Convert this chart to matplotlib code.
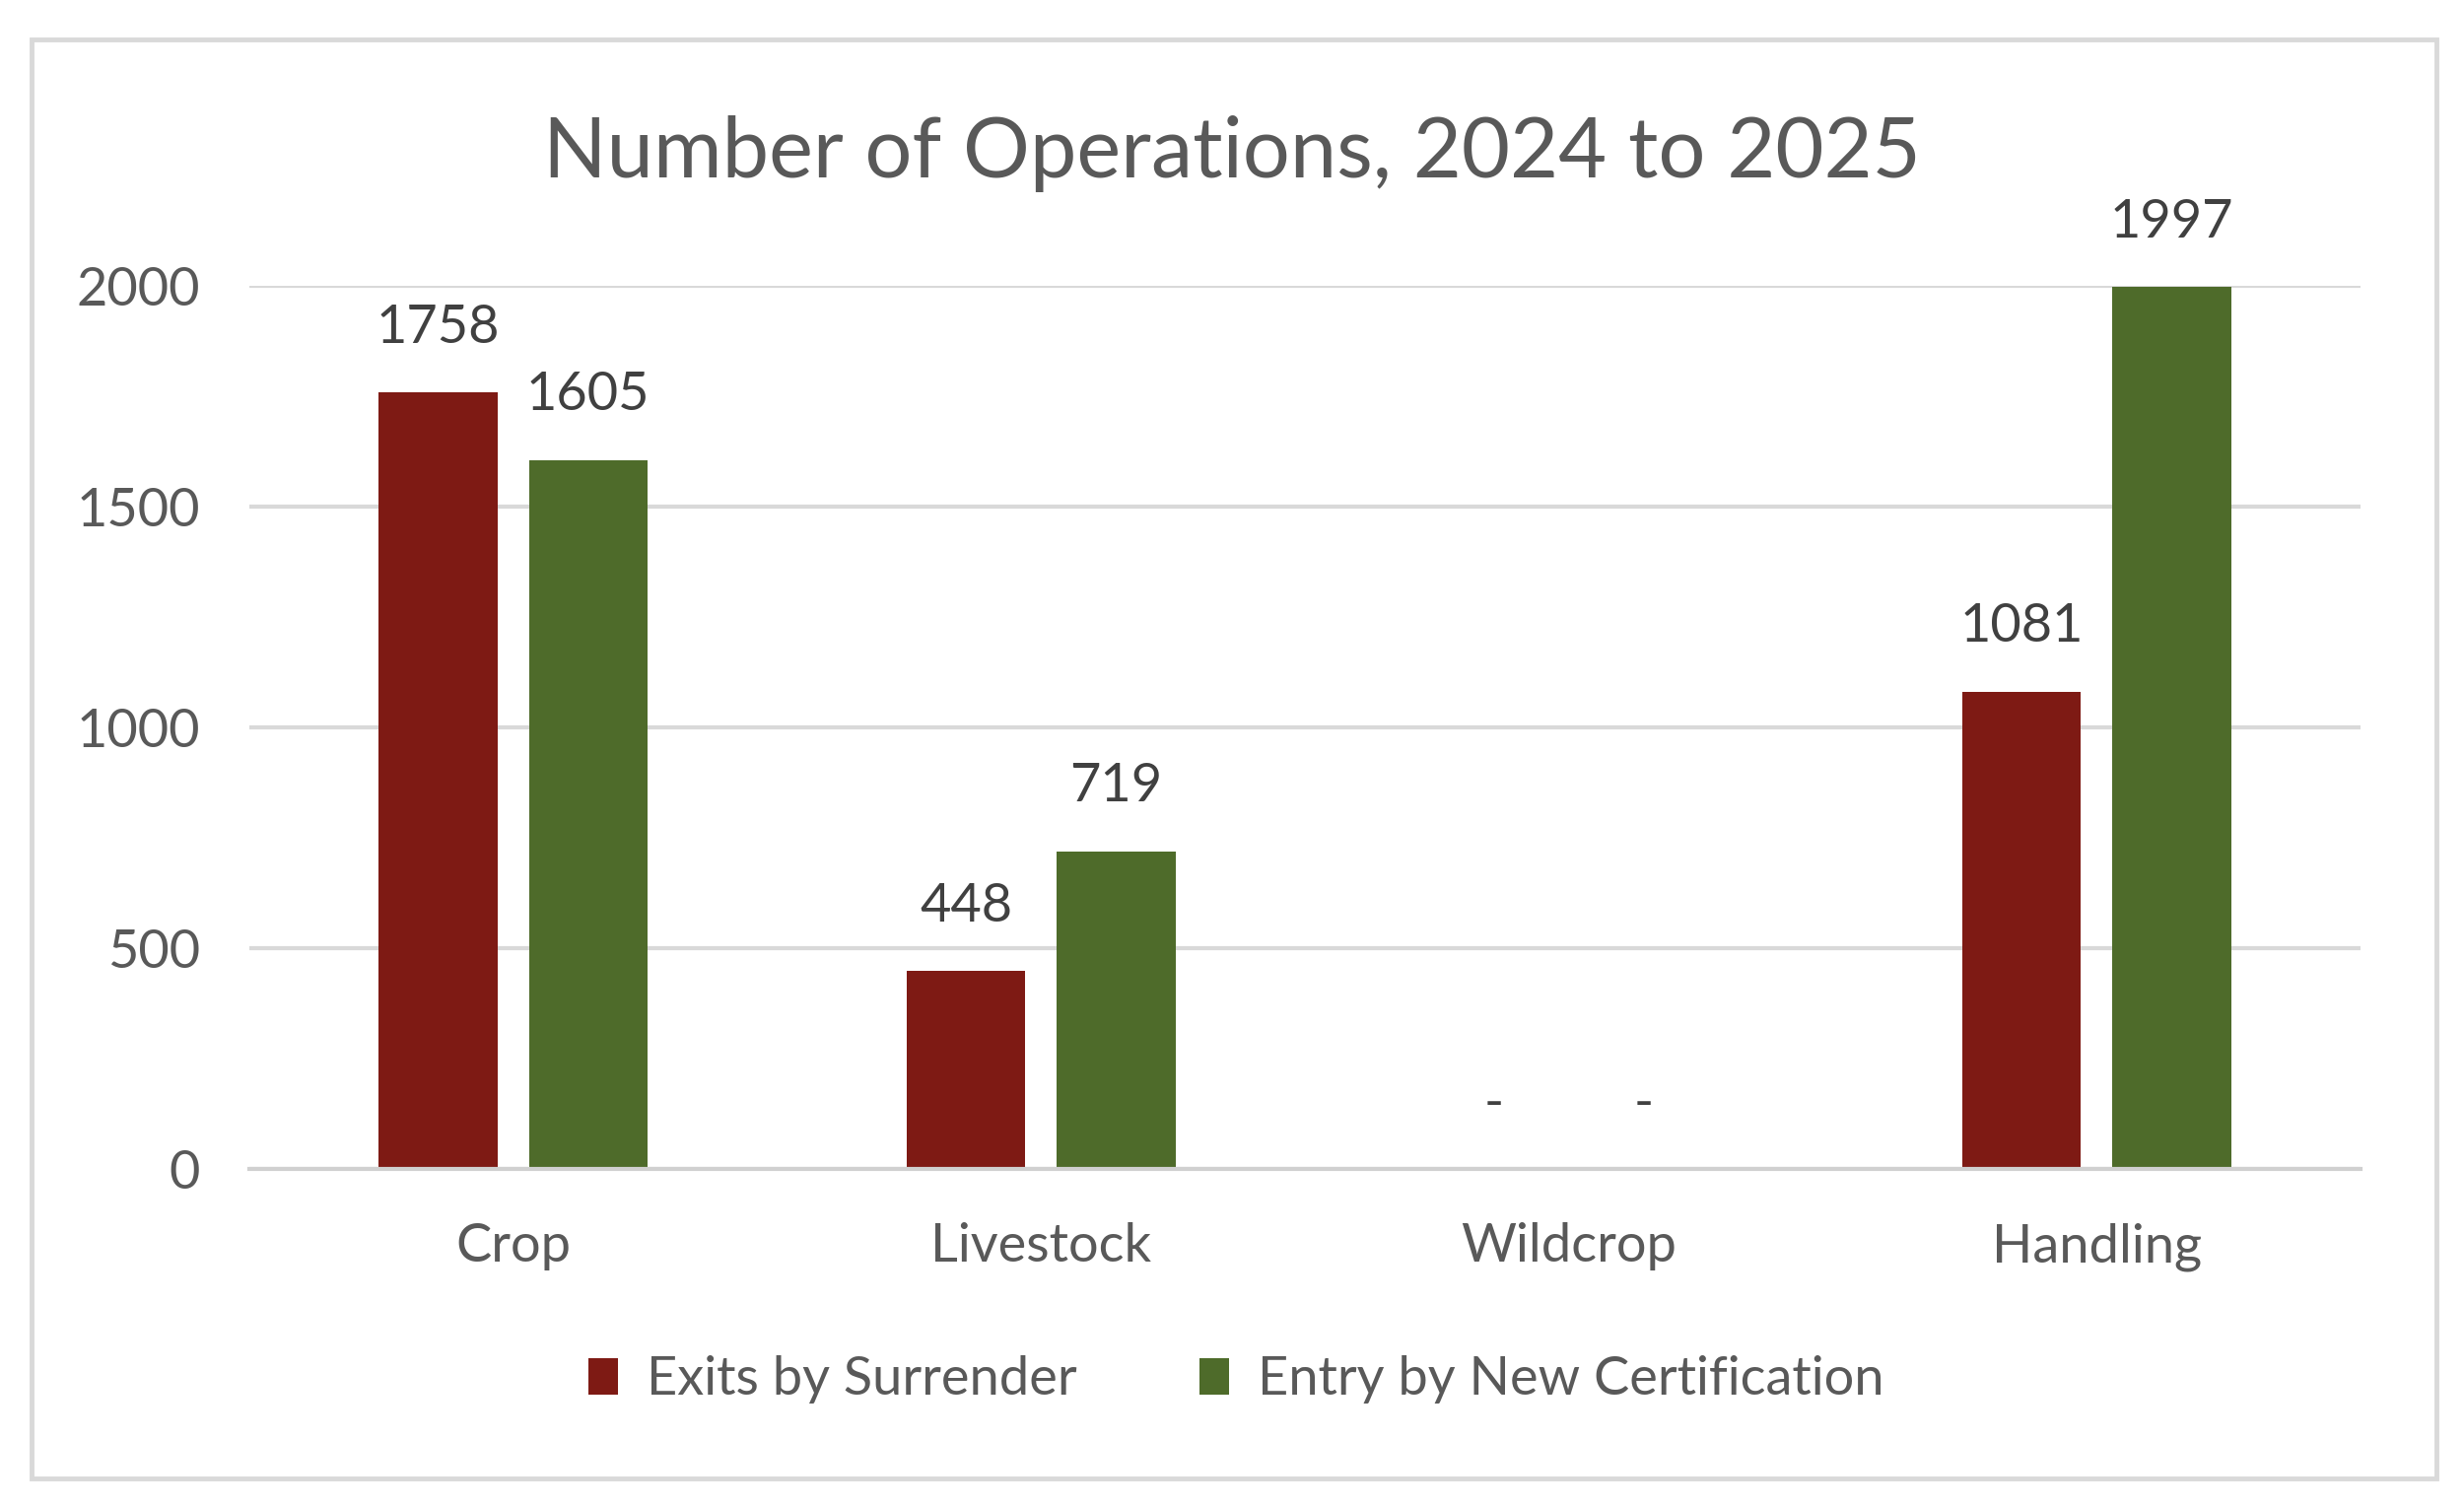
import matplotlib
matplotlib.use("Agg")
import numpy as np
from matplotlib import pyplot as plt
from matplotlib.patches import Rectangle

# chart data
categories = ["Crop", "Livestock", "Wildcrop", "Handling"]
exits = [1758, 448, 0, 1081]
entries = [1605, 719, 0, 1997]
series_names = ["Exits by Surrender", "Entry by New Certification"]
yticks = [0, 500, 1000, 1500, 2000]

red = "#7E1A14"
green = "#4E6B2A"
grid_col = "#D9D9D9"

plt.rcParams['font.family'] = ['Lato', 'DejaVu Sans']

fig = plt.figure(figsize=(25, 15.3), dpi=100)

# light gray outer frame like the spreadsheet chart area
fig.patches.append(Rectangle((32 / 2500, 1 - 1500 / 1530), 2440 / 2500, 1460 / 1530,
                             transform=fig.transFigure, fill=False,
                             edgecolor=grid_col, linewidth=3.5))

ax = fig.add_axes([0.1012, 0.2248, 0.8568, 0.5857])

x = np.arange(len(categories))
w = 0.225
off = 0.142
b1 = ax.bar(x - off, exits, w, color=red, label=series_names[0], zorder=3)
b2 = ax.bar(x + off, entries, w, color=green, label=series_names[1], zorder=3)

def fmt(v):
    return "-" if v == 0 else f"{v:.0f}"

for bars in (b1, b2):
    ax.bar_label(bars, labels=[fmt(b.get_height()) for b in bars], padding=30,
                 fontsize=39, color="#404040", clip_on=False)

ax.set_xlim(-0.5, 3.5)
ax.set_ylim(0, 2000)
ax.set_yticks(yticks)
ax.set_xticks(x)
ax.set_xticklabels(categories)
ax.tick_params(axis='both', length=0, labelsize=39, labelcolor="#595959")
ax.tick_params(axis='x', pad=39)
ax.tick_params(axis='y', pad=36)

ax.grid(axis='y', color=grid_col, linewidth=3, zorder=0)
for s in ["top", "left", "right"]:
    ax.spines[s].set_visible(False)
ax.spines["bottom"].set_color("#D0D0D0")
ax.spines["bottom"].set_linewidth(3)
ax.spines["bottom"].set_zorder(4)

fig.text(0.5, 1 - 156 / 1530, "Number of Operations, 2024 to 2025", ha="center",
         va="center", fontsize=61, color="#595959")

fig.legend(loc="center", bbox_to_anchor=(0.5016, 1 - 1400 / 1530), ncol=2,
           frameon=False, fontsize=39, labelcolor="#595959",
           handlelength=0.56, handleheight=0.68, handletextpad=0.53,
           columnspacing=2.3)

fig.savefig("out.png", dpi=100, facecolor="white")
